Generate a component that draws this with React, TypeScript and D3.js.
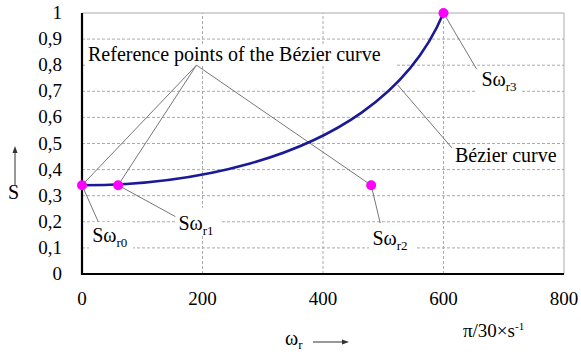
import React from 'react';
import {scaleLinear, path} from 'd3';

// control points of the cubic Bezier curve
const pointX = [0, 60, 480, 600];
const pointY = [0.34, 0.34, 0.34, 1];
const pointNames = ['r0', 'r1', 'r2', 'r3'];

const xTicks = [0, 200, 400, 600, 800];
const yTicks = [0, 0.1, 0.2, 0.3, 0.4, 0.5, 0.6, 0.7, 0.8, 0.9, 1];
const yTickLabels = ['0', '0,1', '0,2', '0,3', '0,4', '0,5', '0,6', '0,7', '0,8', '0,9', '1'];

// label anchors in data units: [leader end x, leader end y, text x, text y]
const labelAnchors = [
  [27, 0.2, 17, 0.122],
  [155, 0.22, 160, 0.168],
  [495, 0.195, 482, 0.11],
  [655, 0.785, 663, 0.72],
];

const W = 581, H = 358;
const fam = 'Liberation Serif';
const T = (props: any) => (
  <text {...props} style={{fontFamily: `'${fam}'`}} />
);

const App = () => {
  const x = scaleLinear().domain([0, 800]).range([82, 564]);
  const y = scaleLinear().domain([0, 1]).range([274, 13]);

  const p = path();
  p.moveTo(x(pointX[0]), y(pointY[0]));
  p.bezierCurveTo(x(pointX[1]), y(pointY[1]), x(pointX[2]), y(pointY[2]), x(pointX[3]), y(pointY[3]));

  const apex = [x(190), y(0.8)];

  return (
    <svg width={W} height={H} style={{position: 'absolute', left: 0, top: 0}}>
      <rect x={0} y={0} width={W} height={H} fill="#fff" />
      {/* grid */}
      {yTicks.slice(1).map(t => (
        <line key={'gy' + t} x1={x(0)} x2={x(800)} y1={y(t)} y2={y(t)}
          stroke="#aaa" strokeDasharray={t === 1 ? undefined : '3,2'} strokeWidth={1} />
      ))}
      {xTicks.slice(1).map(t => (
        <line key={'gx' + t} x1={x(t)} x2={x(t)} y1={y(0)} y2={y(1)}
          stroke="#aaa" strokeDasharray={t === 800 ? undefined : '3,2'} strokeWidth={1} />
      ))}

      {/* label backgrounds */}
      <rect x={86} y={44} width={310} height={22} fill="#fff" />
      <rect x={89} y={222} width={44} height={28} fill="#fff" />
      <rect x={175} y={208} width={46} height={28} fill="#fff" />
      <rect x={369} y={224} width={46} height={28} fill="#fff" />
      <rect x={452} y={144} width={110} height={22} fill="#fff" />
      <rect x={476} y={66} width={46} height={28} fill="#fff" />

      {/* axes */}
      <line x1={x(0)} x2={x(0)} y1={y(0) + 1} y2={y(1)} stroke="#000" strokeWidth={2.2} />
      <line x1={x(0) - 1} x2={x(800)} y1={y(0)} y2={y(0)} stroke="#000" strokeWidth={2.2} />

      {yTicks.map((t, i) => (
        <T key={'ty' + t} x={62} y={y(t) + 6} textAnchor="end" fontSize={19}>{yTickLabels[i]}</T>
      ))}
      {xTicks.map(t => (
        <T key={'tx' + t} x={x(t)} y={305} textAnchor="middle" fontSize={19}>{String(t)}</T>
      ))}

      {/* leader lines to reference points */}
      {pointX.slice(0, 3).map((px, i) => (
        <line key={'lr' + i} x1={apex[0]} y1={apex[1]} x2={x(px)} y2={y(pointY[i])} stroke="#777" strokeWidth={1} />
      ))}
      {labelAnchors.map((a, i) => (
        <line key={'ll' + i} x1={x(pointX[i])} y1={y(pointY[i])} x2={x(a[0])} y2={y(a[1])} stroke="#777" strokeWidth={1} />
      ))}
      <line x1={x(524)} y1={y(0.724)} x2={x(614)} y2={y(0.483)} stroke="#777" strokeWidth={1} />

      {/* curve */}
      <path d={p.toString()} fill="none" stroke="#1a1a96" strokeWidth={2.6} />
      {pointX.map((px, i) => (
        <circle key={'pt' + i} cx={x(px)} cy={y(pointY[i])} r={5} fill="#ff00ff" />
      ))}

      {/* labels */}
      <T x={88} y={61} fontSize={20}>Reference points of the Bézier curve</T>
      {labelAnchors.map((a, i) => (
        <T key={'lt' + i} x={x(a[2])} y={y(a[3])} fontSize={20}>
          Sω<tspan fontSize={13} dy={5}>{pointNames[i]}</tspan>
        </T>
      ))}
      <T x={455} y={162} fontSize={20}>Bézier curve</T>

      {/* axis titles */}
      <T x={8} y={199} fontSize={20}>S</T>
      <line x1={15} x2={15} y1={185} y2={151} stroke="#333" strokeWidth={1} />
      <path d="M15,146 L12.5,153 L17.5,153 Z" fill="#333" />
      <T x={285} y={345} fontSize={20}>ω<tspan fontSize={13} dy={4}>r</tspan></T>
      <line x1={313} x2={343} y1={342} y2={342} stroke="#333" strokeWidth={1} />
      <path d="M349,342 L342,339.5 L342,344.5 Z" fill="#333" />
      <T x={463} y={337} fontSize={19}>π/30×s<tspan fontSize={11} dy={-7}>-1</tspan></T>
    </svg>
  );
};

export default App;
